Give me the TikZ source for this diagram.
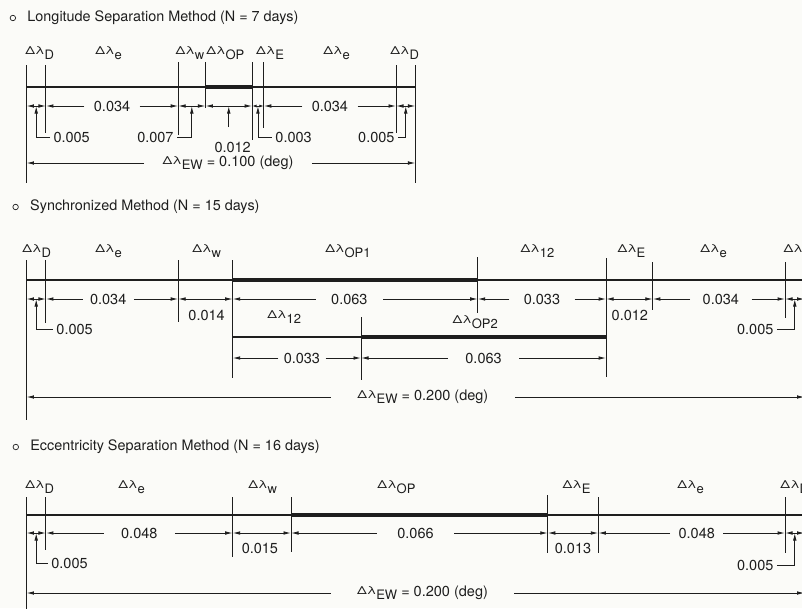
\documentclass[tikz,border=0pt]{standalone}
\usepackage{fontspec}
\setmainfont{TeX Gyre Heros}
\usetikzlibrary{positioning,calc,arrows.meta}

\definecolor{ink}{RGB}{30,30,30}
\definecolor{paper}{RGB}{251,251,248}

% Delta lambda with a lowered index
\newcommand{\dl}[1]{{\fontsize{11}{12}\selectfont\scalebox{1.25}[1]{Δλ}}\raisebox{-5pt}{\fontsize{13}{15}\selectfont #1}}

\tikzset{
  dimtip/.tip={Latex[length=7.5pt,width=3.6pt]},
  smalltip/.tip={Latex[length=4.5pt,width=3pt]},
  tickline/.style={line width=1pt},
  mainbar/.style={line width=1.8pt},
  opbar/.style={line width=4pt},
  dim/.style={dimtip-dimtip, line width=0.9pt},
  tightdim/.style={smalltip-smalltip, line width=0.9pt},
  arr/.style={-dimtip, line width=0.9pt},
  num/.style={font=\fontsize{14.5}{16}\selectfont, inner sep=0pt},
  lbl/.style={font=\fontsize{14.5}{16}\selectfont, anchor=base west, inner sep=0pt},
  heading/.style={font=\fontsize{14.4}{16}\selectfont, anchor=west, inner sep=0pt},
  bullet/.style={circle, draw, line width=0.7pt, minimum size=5.5pt, inner sep=0pt}
}

\begin{document}
\begin{tikzpicture}[x=3.89pt, y=-1pt, line width=1pt, color=ink]

\clip (-6.81,0) rectangle (199.36,608);
\fill[paper] (-6.81,0) rectangle (199.36,608);

%%% Longitude separation method
\node[bullet] (b1) at (-3.5,18) {};
\node[heading, right=11pt of b1] (h1) {Longitude Separation Method (N = 7 days)};

% Horizontal lines
\draw[mainbar] (0,87) -- (100,87);
\draw[opbar] (46,87) -- (58,87);

% Tick marks (position in 0.001 deg / top / bottom)
\foreach \v/\ya/\yb [count=\i] in {0/65/183, 5/65/133, 39/62/135, 46/62/108,
    58/62/140, 61/62/128, 95/65/133, 100/65/183}
{
  \draw[tickline] (\v,\ya) -- (\v,\yb);
  \coordinate (A\i) at (\v,106);
}

% Segment labels
\foreach \x/\s [count=\i] in {-0.4/D, 17.6/e, 38.2/w, 46.1/OP, 58.9/E, 76.2/e, 93.4/D}
  \node[lbl] (lA\i) at (\x,54) {\dl{\s}};

% Short spans
\foreach \p/\q in {1/2, 3/4, 4/5, 7/8}
  \draw[dim] (A\p) -- (A\q);
\draw[tightdim] (A5) -- (A6);

% Spans with the value between the arrows
\foreach \p/\q/\val/\g/\dx in {2/3/0.034/9/0, 6/7/0.034/9/0}
{
  \node[num, inner xsep=\g pt] (vA\p) at ($(A\p)!0.5!(A\q)+(\dx,0)$) {\val};
  \draw[arr] (vA\p.west) -- (A\p);
  \draw[arr] (vA\p.east) -- (A\q);
}

% Values pointed at from below
\foreach \p/\q/\x/\y/\side/\val in {1/2/6.05/137/west/0.005, 3/4/38.7/137/east/0.007,
    5/6/63.1/137/west/0.003, 7/8/95.5/137/east/0.005}
{
  \coordinate (mA\p) at ($(A\p)!0.5!(A\q)$);
  \node[num, inner xsep=3pt, anchor=\side] (pA\p) at (\x,\y) {\val};
  \draw[arr] (pA\p.\side) -| (mA\p);
}
\coordinate (mA4) at ($(A4)!0.5!(A5)$);
\coordinate (qA4) at (52,127);
\node[num] (pA4) at (53,147) {0.012};
\draw[arr] (qA4) -- (mA4);

% Total span
\node[num, inner xsep=18pt] (ew1) at (51.8,163) {\dl{EW}\raisebox{-2pt}{ = 0.100 (deg)}};
\draw[arr] (ew1.west) -- (ew1.west -| A1);
\draw[arr] (ew1.east) -- (ew1.east -| A8);

%%% Synchronized method
\node[bullet] (b2) at (-2.8,207) {};
\node[heading, right=11pt of b2] (h2) {Synchronized Method (N = 15 days)};

% Horizontal lines
\draw[mainbar] (0,280) -- (200,280);
\draw[opbar] (53,280) -- (116,280);
\draw[mainbar] (53,337) -- (86,337);
\draw[opbar] (86,337) -- (149,337);

% Tick marks
\foreach \v/\ya/\yb [count=\i] in {0/260/420, 5/260/323, 39/260/322, 53/260/378,
    116/257/313, 149/258/377, 161/262/310, 195/262/318, 200/260/420}
{
  \draw[tickline] (\v,\ya) -- (\v,\yb);
  \coordinate (B\i) at (\v,299);
}
\draw[tickline] (86,317) -- (86,380);
\foreach \v [count=\i] in {53, 86, 149}
  \coordinate (L\i) at (\v,358);

% Segment labels
\foreach \x/\y/\s [count=\i] in {-1.2/252/D, 17.6/252/e, 42.5/252/w, 76.7/252/OP1,
    126.9/252/12, 151.8/252/E, 173.1/252/e, 194.5/252/D, 61.8/318/12, 109.4/323/OP2}
  \node[lbl] (lB\i) at (\x,\y) {\dl{\s}};

% Short spans
\foreach \p/\q in {1/2, 3/4, 6/7, 8/9}
  \draw[dim] (B\p) -- (B\q);
\node[num] (vB3) at (46.3,315) {0.014};
\node[num] (vB6) at (155.1,315) {0.012};

% Spans with the value between the arrows
\foreach \p/\q/\val/\g/\dx in {2/3/0.034/7/-1, 4/5/0.063/15/-1.5, 5/6/0.033/14/0, 7/8/0.034/12/0.5}
{
  \node[num, inner xsep=\g pt] (vB\p) at ($(B\p)!0.5!(B\q)+(\dx,0)$) {\val};
  \draw[arr] (vB\p.west) -- (B\p);
  \draw[arr] (vB\p.east) -- (B\q);
}
\foreach \p/\q/\val/\g/\dx in {1/2/0.033/5/1.3, 2/3/0.063/17/0}
{
  \node[num, inner xsep=\g pt] (vL\p) at ($(L\p)!0.5!(L\q)+(\dx,0)$) {\val};
  \draw[arr] (vL\p.west) -- (L\p);
  \draw[arr] (vL\p.east) -- (L\q);
}

% Values pointed at from below
\foreach \p/\q/\x/\y/\side/\val in {1/2/6.8/329/west/0.005, 8/9/192.9/329/east/0.005}
{
  \coordinate (mB\p) at ($(B\p)!0.5!(B\q)$);
  \node[num, inner xsep=3pt, anchor=\side] (pB\p) at (\x,\y) {\val};
  \draw[arr] (pB\p.\side) -| (mB\p);
}

% Total span
\node[num, inner xsep=26pt] (ew2) at (101.9,397) {\dl{EW}\raisebox{-2pt}{ = 0.200 (deg)}};
\draw[arr] (ew2.west) -- (ew2.west -| B1);
\draw[arr] (ew2.east) -- (ew2.east -| B9);

%%% Eccentricity separation method
\node[bullet] (b3) at (-2.75,447) {};
\node[heading, right=11pt of b3] (h3) {Eccentricity Separation Method (N = 16 days)};

% Horizontal lines
\draw[mainbar] (0,515) -- (200,515);
\draw[opbar] (68,515) -- (134,515);

% Tick marks
\foreach \v/\ya/\yb [count=\i] in {0/497/610, 5/497/550, 53/497/557, 68/497/552,
    134/495/553, 147/497/553, 195/497/553, 200/497/610}
{
  \draw[tickline] (\v,\ya) -- (\v,\yb);
  \coordinate (C\i) at (\v,533);
}

% Segment labels
\foreach \x/\s [count=\i] in {-0.4/D, 23.5/e, 56.9/w, 90.1/OP, 137.7/E, 167.2/e, 193.7/D}
  \node[lbl] (lC\i) at (\x,488) {\dl{\s}};

% Short spans
\foreach \p/\q in {1/2, 3/4, 5/6, 7/8}
  \draw[dim] (C\p) -- (C\q);
\node[num] (vC3) at (60,548) {0.015};
\node[num] (vC5) at (140.5,548) {0.013};

% Spans with the value between the arrows
\foreach \p/\q/\val/\g/\dx in {2/3/0.048/17/0, 4/5/0.066/20/-1, 6/7/0.048/8/1.3}
{
  \node[num, inner xsep=\g pt] (vC\p) at ($(C\p)!0.5!(C\q)+(\dx,0)$) {\val};
  \draw[arr] (vC\p.west) -- (C\p);
  \draw[arr] (vC\p.east) -- (C\q);
}

% Values pointed at from below
\foreach \p/\q/\x/\y/\side/\val in {1/2/5.5/563/west/0.005, 7/8/192.9/565/east/0.005}
{
  \coordinate (mC\p) at ($(C\p)!0.5!(C\q)$);
  \node[num, inner xsep=3pt, anchor=\side] (pC\p) at (\x,\y) {\val};
  \draw[arr] (pC\p.\side) -| (mC\p);
}

% Total span
\node[num, inner xsep=26pt] (ew3) at (101.8,593) {\dl{EW}\raisebox{-2pt}{ = 0.200 (deg)}};
\draw[arr] (ew3.west) -- (ew3.west -| C1);
\draw[arr] (ew3.east) -- (ew3.east -| C8);

\end{tikzpicture}
\end{document}
